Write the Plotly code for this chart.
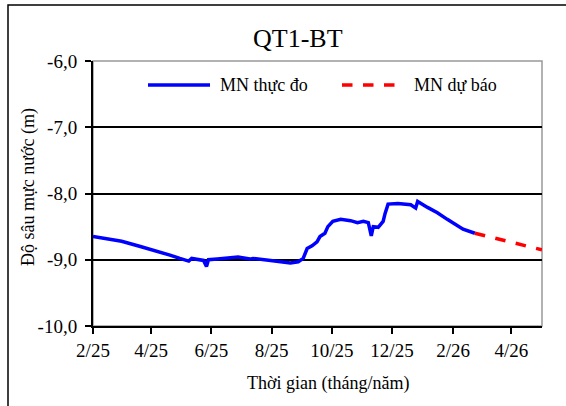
import plotly.graph_objects as go

# ---- data ----
obs_dates = ["2025-02-01", "2025-02-15", "2025-03-02", "2025-03-21", "2025-04-07", "2025-04-20",
             "2025-04-30", "2025-05-09", "2025-05-12", "2025-05-18", "2025-05-24", "2025-05-27",
             "2025-05-29", "2025-06-07", "2025-06-13", "2025-06-28", "2025-07-10", "2025-07-13",
             "2025-07-31", "2025-08-20", "2025-08-28", "2025-09-02", "2025-09-06", "2025-09-11",
             "2025-09-16", "2025-09-19", "2025-09-24", "2025-09-27", "2025-10-02", "2025-10-10",
             "2025-10-20", "2025-10-27", "2025-11-02", "2025-11-07", "2025-11-10", "2025-11-12",
             "2025-11-17", "2025-11-22", "2025-11-24", "2025-11-27", "2025-12-07", "2025-12-20",
             "2025-12-25", "2025-12-27", "2026-01-06", "2026-01-16", "2026-01-26", "2026-02-01",
             "2026-02-06", "2026-02-11", "2026-02-23"]
obs_values = [-8.65, -8.68, -8.72, -8.80, -8.87, -8.93,
              -8.98, -9.02, -8.98, -9.00, -9.01, -9.10,
              -9.00, -8.99, -8.98, -8.96, -8.99, -8.98,
              -9.01, -9.05, -9.03, -8.98, -8.83, -8.79,
              -8.73, -8.65, -8.60, -8.50, -8.42, -8.39,
              -8.41, -8.44, -8.42, -8.44, -8.64, -8.50,
              -8.51, -8.42, -8.30, -8.16, -8.15, -8.17,
              -8.22, -8.12, -8.21, -8.29, -8.39, -8.45,
              -8.49, -8.54, -8.60]

fc_dates = ["2026-02-23", "2026-03-28", "2026-05-02"]
fc_values = [-8.60, -8.72, -8.85]

x_tick_dates = ["2025-02-01", "2025-04-01", "2025-06-01", "2025-08-01", "2025-10-01",
                "2025-12-01", "2026-02-01", "2026-04-01"]
x_tick_labels = ["2/25", "4/25", "6/25", "8/25", "10/25", "12/25", "2/26", "4/26"]
y_tick_values = [-10, -9, -8, -7, -6]
y_tick_labels = ["-10,0", "-9,0", "-8,0", "-7,0", "-6,0"]

series_names = ["MN thực đo", "MN dự báo"]
title_text = "QT1-BT"
x_title = "Thời gian (tháng/năm)"
y_title = "Độ sâu mực nước (m)"

FONT = "Liberation Serif, Times New Roman, serif"
W, H = 566, 406
L, R, T, B = 93, 24, 61, 80
PW, PH = W - L - R, H - T - B

def px(x):
    return (x - L) / PW

def py(y):
    return 1 - (y - T) / PH

fig = go.Figure()
fig.add_trace(go.Scatter(x=obs_dates, y=obs_values, mode="lines", name=series_names[0],
                         line=dict(color="#0000FF", width=3.5), showlegend=False))
fig.add_trace(go.Scatter(x=fc_dates, y=fc_values, mode="lines", name=series_names[1],
                         line=dict(color="#FF0000", width=3.5, dash="dash"), showlegend=False))

shapes = []
# plot-area border (gray)
shapes.append(dict(type="rect", xref="paper", yref="paper", x0=0, x1=1, y0=0, y1=1,
                   line=dict(color="#999999", width=1.5), layer="below"))
# outer chart border
shapes.append(dict(type="rect", xref="paper", yref="paper", x0=px(8), x1=px(580),
                   y0=py(430), y1=py(5), line=dict(color="black", width=1.5)))
# legend keys
shapes.append(dict(type="line", xref="paper", yref="paper", x0=px(148), x1=px(210),
                   y0=py(85), y1=py(85), line=dict(color="#0000FF", width=3.5)))
shapes.append(dict(type="line", xref="paper", yref="paper", x0=px(342), x1=px(405),
                   y0=py(85), y1=py(85), line=dict(color="#FF0000", width=3.5, dash="dash")))

annotations = [
    dict(text=title_text, xref="paper", yref="paper", x=px(298), y=py(38), showarrow=False,
         font=dict(family=FONT, size=26, color="black"), xanchor="center", yanchor="middle"),
    dict(text=series_names[0], xref="paper", yref="paper", x=px(218), y=py(85), showarrow=False,
         font=dict(family=FONT, size=18, color="black"), xanchor="left", yanchor="middle"),
    dict(text=series_names[1], xref="paper", yref="paper", x=px(412), y=py(85), showarrow=False,
         font=dict(family=FONT, size=18, color="black"), xanchor="left", yanchor="middle"),
    dict(text=x_title, xref="paper", yref="paper", x=px(328), y=py(383), showarrow=False,
         font=dict(family=FONT, size=18, color="black"), xanchor="center", yanchor="middle"),
    dict(text=y_title, xref="paper", yref="paper", x=px(28), y=py(187), showarrow=False,
         textangle=-90, font=dict(family=FONT, size=18, color="black"),
         xanchor="center", yanchor="middle"),
]

fig.update_layout(
    width=W, height=H,
    margin=dict(l=L, r=R, t=T, b=B, pad=0),
    paper_bgcolor="white", plot_bgcolor="white",
    font=dict(family=FONT, size=18, color="black"),
    shapes=shapes, annotations=annotations,
    showlegend=False,
)
fig.update_xaxes(type="date", range=["2025-02-01", "2026-05-02"],
                 tickvals=x_tick_dates, ticktext=x_tick_labels,
                 showgrid=False, zeroline=False,
                 showline=True, linecolor="black", linewidth=2,
                 ticks="outside", ticklen=6, tickwidth=1.5, tickcolor="black",
                 tickfont=dict(family=FONT, size=19, color="black"))
fig.update_yaxes(range=[-10, -6], tickvals=y_tick_values, ticktext=y_tick_labels,
                 showgrid=True, gridcolor="black", gridwidth=2, zeroline=False,
                 showline=True, linecolor="black", linewidth=2,
                 ticks="outside", ticklen=6, tickwidth=1.5, tickcolor="black",
                 ticklabelstandoff=4,
                 tickfont=dict(family=FONT, size=19, color="black"))

fig.write_html("out.html")
